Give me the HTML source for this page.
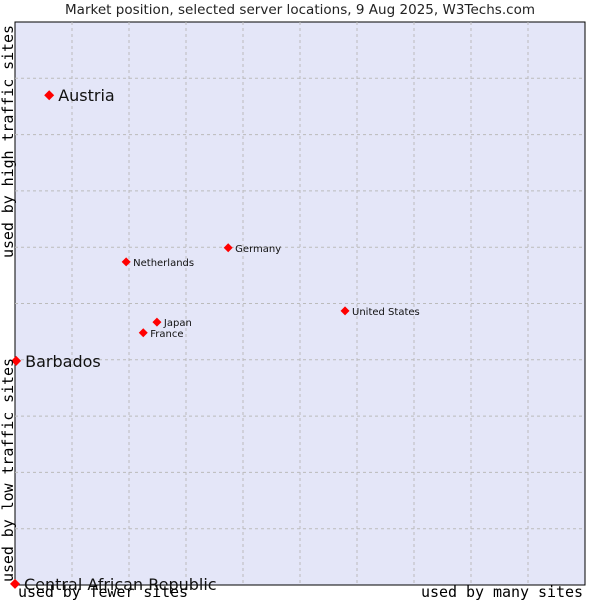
<!DOCTYPE html>
<html><head><meta charset="utf-8"><style>
body{margin:0;background:#fff;width:600px;height:600px;overflow:hidden}
svg text{font-family:"DejaVu Sans","Liberation Sans",sans-serif}
.m{font-family:"DejaVu Sans Mono","Liberation Mono",monospace !important}
</style></head><body>
<svg id="c" width="600" height="600">
<text x="300" y="14" text-anchor="middle" font-size="13.5" fill="#222" textLength="470">Market position, selected server locations, 9 Aug 2025, W3Techs.com</text>
<rect x="15" y="22" width="570" height="563" fill="#e4e6f8" stroke="#000" stroke-width="1"/>
<g id="grid"></g>
<g id="pts"></g>
<text class="m" x="13" y="258" transform="rotate(-90 13 258)" font-size="15" textLength="233">used by high traffic sites</text>
<text class="m" x="13" y="582" transform="rotate(-90 13 582)" font-size="15" textLength="224">used by low traffic sites</text>
<text class="m" x="18" y="597" font-size="15" textLength="170">used by fewer sites</text>
<text class="m" x="583" y="597" text-anchor="end" font-size="15" textLength="162">used by many sites</text>
</svg>
<script>
const names=["Austria","Barbados","Central African Republic","Netherlands","Germany","United States","Japan","France"];
const xs=[6.0,0.2,0,19.5,37.4,57.9,24.9,22.5];
const ys=[87.0,39.8,0.2,57.4,59.9,48.7,46.7,44.8];
const big=[true,true,true,false,false,false,false,false];
const L=15,T=22,W=570,H=563;
const sx=v=>L+v/100*W, sy=v=>T+H-v/100*H;
const ns="http://www.w3.org/2000/svg";
const g=document.getElementById('grid'),p=document.getElementById('pts');
for(let i=1;i<10;i++){
 let l=document.createElementNS(ns,'line');
 
 
 l.setAttribute('x1',sx(i*10));l.setAttribute('x2',sx(i*10));l.setAttribute('y1',T);l.setAttribute('y2',T+H);
 l.setAttribute('stroke','#bbb');l.setAttribute('stroke-dasharray','3,3');g.appendChild(l);
 let h=document.createElementNS(ns,'line');
 
 
 h.setAttribute('y1',sy(i*10));h.setAttribute('y2',sy(i*10));h.setAttribute('x1',L);h.setAttribute('x2',L+W);
 h.setAttribute('stroke','#bbb');h.setAttribute('stroke-dasharray','3,3');g.appendChild(h);
}
names.forEach((n,i)=>{
 const x=sx(xs[i]),y=sy(ys[i]),r=big[i]?5:4.5;
 let d=document.createElementNS(ns,'path');
 
 
 d.setAttribute('d',`M${x} ${y-r}L${x+r} ${y}L${x} ${y+r}L${x-r} ${y}Z`);
 d.setAttribute('fill','#f00');p.appendChild(d);
 let t=document.createElementNS(ns,'text');
 
 
 t.setAttribute('x',x+(big[i]?9:7));t.setAttribute('y',y+(big[i]?6:4));
 t.setAttribute('font-size',big[i]?16:10);t.setAttribute('fill','#111');
 t.textContent=n;p.appendChild(t);
});
</script>
</body></html>
